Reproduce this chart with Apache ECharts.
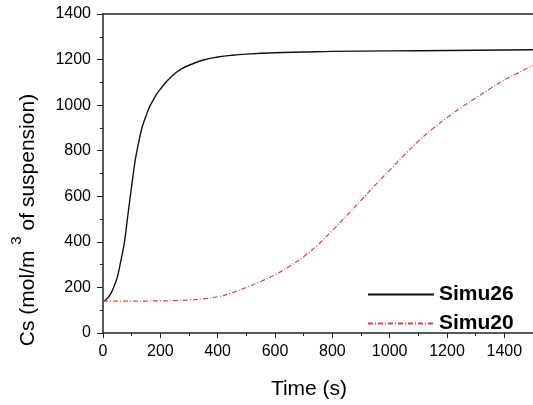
<!DOCTYPE html>
<html>
<head>
    <meta charset="utf-8">
    <title>Cs vs time</title>
    <script src="https://cdn.jsdelivr.net/npm/echarts@6/dist/echarts.min.js"></script>
    <style>
        html, body { margin: 0; padding: 0; background: #fff; }
        #main { width: 533px; height: 405px; }
    </style>
</head>
<body>
<div id="main"></div>
<script>
    // time (s) and Cs values
    var simu26Time = [0, 12, 25, 37, 50, 62, 75, 87, 100, 112, 125, 137, 150, 162, 175, 187, 200, 225, 250, 275, 300, 350, 400, 450, 500, 600, 700, 800, 1000, 1200, 1500];
    var simu26Cs   = [140, 148, 168, 200, 245, 315, 400, 520, 645, 755, 840, 905, 952, 992, 1022, 1048, 1070, 1108, 1138, 1160, 1175, 1198, 1211, 1219, 1224, 1230, 1233, 1236, 1238, 1240, 1243];

    var simu20Time = [0, 100, 200, 250, 300, 350, 400, 450, 500, 550, 600, 650, 700, 750, 800, 850, 900, 950, 1000, 1050, 1100, 1150, 1200, 1250, 1300, 1350, 1400, 1450, 1500];
    var simu20Cs   = [140, 140, 141, 142, 145, 150, 159, 176, 200, 226, 256, 292, 335, 388, 450, 515, 582, 650, 715, 780, 842, 896, 945, 990, 1031, 1072, 1110, 1143, 1175];

    var xTicks = { min: 0, max: 1500, interval: 200 };
    var yTicks = { min: 0, max: 1400, interval: 200 };

    function pairs(xs, ys) {
        var out = [];
        for (var i = 0; i < xs.length; i++) out.push([xs[i], ys[i]]);
        return out;
    }

    var font = 'Liberation Sans, Arial, sans-serif';
    var axisColor = '#222';
    var plain = function (v) { return String(v); };

    var chart = echarts.init(document.getElementById('main'));
    var option = {
        animation: false,
        textStyle: { fontFamily: font },
        grid: { left: 103, top: 14, width: 435, height: 319 },
        legend: {
            orient: 'vertical',
            left: 362,
            top: 279,
            itemWidth: 66,
            itemHeight: 14,
            itemGap: 8,
            itemStyle: { color: 'transparent', borderColor: 'transparent', borderWidth: 0 },
            textStyle: { fontFamily: font, fontSize: 21, fontWeight: 'bold', color: '#000' },
            data: ['Simu26', 'Simu20']
        },
        xAxis: [{
            type: 'value',
            min: xTicks.min,
            max: xTicks.max,
            interval: xTicks.interval,
            name: 'Time (s)',
            nameLocation: 'middle',
            nameGap: 46,
            nameTextStyle: { fontSize: 21, color: '#000', padding: [0, 18, 0, 0] },
            axisLine: { lineStyle: { color: axisColor, width: 1.5 } },
            axisTick: { inside: false, length: 5, lineStyle: { color: axisColor } },
            minorTick: { show: true, splitNumber: 2, length: 3, lineStyle: { color: axisColor } },
            axisLabel: { fontSize: 16, color: '#000', margin: 11, showMaxLabel: false, formatter: plain },
            splitLine: { show: false }
        }, {
            type: 'value',
            position: 'top',
            min: xTicks.min,
            max: xTicks.max,
            axisLine: { show: true, lineStyle: { color: axisColor, width: 1.5 } },
            axisTick: { show: false },
            axisLabel: { show: false },
            splitLine: { show: false }
        }],
        yAxis: {
            type: 'value',
            min: yTicks.min,
            max: yTicks.max,
            interval: yTicks.interval,
            axisLine: { show: true, lineStyle: { color: axisColor, width: 1.5 } },
            axisTick: { inside: false, length: 6, lineStyle: { color: axisColor } },
            minorTick: { show: true, splitNumber: 2, length: 3, lineStyle: { color: axisColor } },
            axisLabel: { fontSize: 16, color: '#000', margin: 12, formatter: plain },
            splitLine: { show: false }
        },
        graphic: [{
            type: 'text',
            x: 24,
            y: 220,
            rotation: Math.PI / 2,
            style: {
                text: '{a|Cs (mol/m }{b|3}{a| of suspension)}',
                align: 'center',
                verticalAlign: 'middle',
                fill: '#000',
                rich: {
                    a: { fontFamily: font, fontSize: 21, lineHeight: 30, verticalAlign: 'bottom' },
                    b: { fontFamily: font, fontSize: 15, lineHeight: 30, verticalAlign: 'top' }
                }
            }
        }],
        series: [{
            name: 'Simu26',
            type: 'line',
            smooth: 0.4,
            symbol: 'none',
            lineStyle: { color: '#111', width: 1.4 },
            itemStyle: { color: '#111' },
            data: pairs(simu26Time, simu26Cs)
        }, {
            name: 'Simu20',
            type: 'line',
            smooth: 0.4,
            symbol: 'none',
            lineStyle: { color: '#e2404c', width: 1.2, type: [5, 2, 1, 2] },
            itemStyle: { color: '#e2404c' },
            data: pairs(simu20Time, simu20Cs)
        }]
    };
    chart.setOption(option);
</script>
</body>
</html>
